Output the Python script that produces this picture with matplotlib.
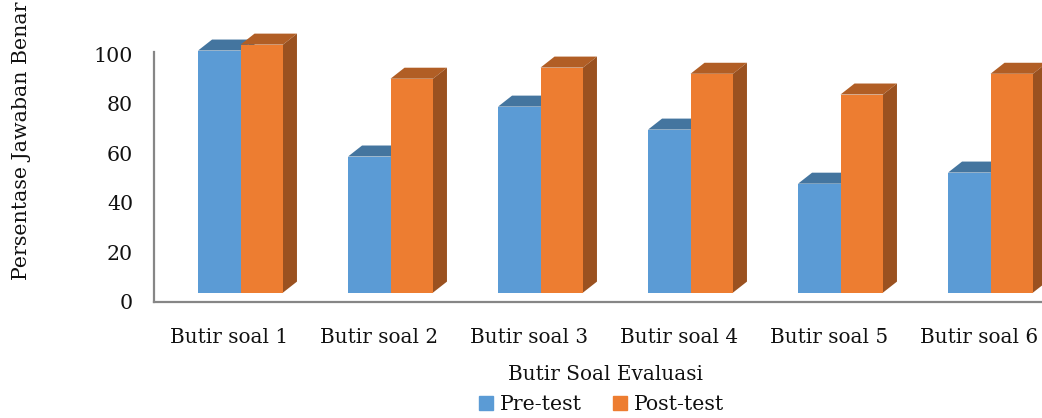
import numpy as np
import matplotlib
matplotlib.use("Agg")
import matplotlib.pyplot as plt
from matplotlib.patches import Polygon
from matplotlib.transforms import ScaledTranslation

categories = ["Butir soal 1", "Butir soal 2", "Butir soal 3",
              "Butir soal 4", "Butir soal 5", "Butir soal 6"]
pre_test = [98.0, 55.1, 75.3, 66.0, 44.1, 48.6]
post_test = [100.4, 86.6, 91.1, 88.6, 80.2, 88.6]
y_ticks = [0, 20, 40, 60, 80, 100]

W, H = 1042, 418
width = 0.283
# the 3d look of the original: front plane sits lower than the axis line
base = 3.6
dx = 14 / 150
dy = 11 / 2.47


def box(ax, x, value, front, top, side):
    zorder = 2 + x
    ax.bar(x, value, width, bottom=base, align="edge", color=front,
           linewidth=0, zorder=zorder + 0.2)
    t = base + value
    ax.add_patch(Polygon([(x, t), (x + width, t), (x + width + dx, t + dy), (x + dx, t + dy)],
                         color=top, lw=0, zorder=zorder))
    ax.add_patch(Polygon([(x + width, base), (x + width + dx, base + dy),
                          (x + width + dx, t + dy), (x + width, t)],
                         color=side, lw=0, zorder=zorder))


plt.rcParams["font.family"] = "DejaVu Serif"
fs = 14.4
fs_big = 14.8
fig = plt.figure(figsize=(W / 100, H / 100), dpi=100)
ax = fig.add_axes([154 / W, (H - 301.5) / H, (W - 154) / W, 271.5 / H])
ax.set_xlim(-86.5 / 150, (W - 240.5) / 150)
ax.set_ylim(0, 271.5 / 2.47)

for i in range(len(categories)):
    box(ax, i - width, pre_test[i], "#5B9BD5", "#44759F", "#3F6E99")
    box(ax, i + 0.0001, post_test[i], "#ED7D31", "#B15E25", "#9A5120")

for s in ["top", "right"]:
    ax.spines[s].set_visible(False)
for s in ["left", "bottom"]:
    ax.spines[s].set_color("#868686")
    ax.spines[s].set_linewidth(1.6)
ax.spines["left"].set_bounds(0, 100 + 2 / 2.47)

ax.set_yticks(y_ticks)
ax.set_xticks(range(len(categories)))
ax.set_xticklabels(categories)
ax.tick_params(axis="x", length=0, labelsize=fs, labelcolor="#111111", pad=19)
ax.tick_params(axis="y", length=0, labelsize=fs_big, labelcolor="#111111", pad=15)
# labels in the original sit left of the group centre
shift = ScaledTranslation(-11 / 100, 0, fig.dpi_scale_trans)
for lab in ax.get_xticklabels():
    lab.set_transform(lab.get_transform() + shift)

fig.text(606 / W, 1 - 375 / H, "Butir Soal Evaluasi", ha="center", va="center",
         fontsize=fs, color="#111111")
fig.text(22 / W, 1 - 141 / H, "Persentase Jawaban Benar", rotation=90, ha="center",
         va="center", fontsize=fs_big, color="#111111")

# legend
handles = [plt.Rectangle((0, 0), 1, 1, color="#5B9BD5"),
           plt.Rectangle((0, 0), 1, 1, color="#ED7D31")]
fig.legend(handles, ["Pre-test", "Post-test"], ncol=2, frameon=False,
           loc="center", bbox_to_anchor=(601.5 / W, 1 - 405 / H), fontsize=fs_big,
           handlelength=0.68, handleheight=0.68, handletextpad=0.35, columnspacing=1.5,
           labelcolor="#111111", borderpad=0)

fig.savefig("out.png", dpi=100)
